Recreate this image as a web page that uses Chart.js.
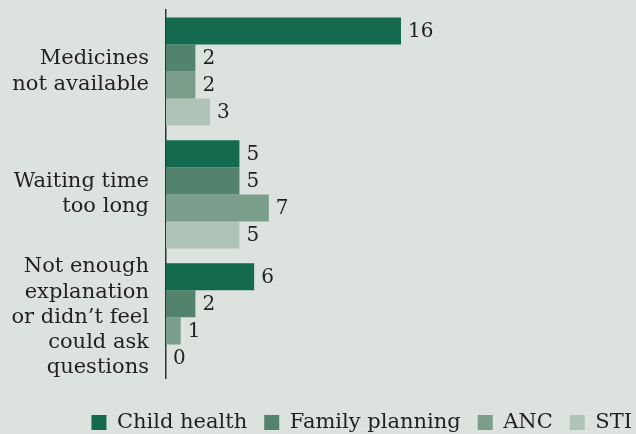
<!DOCTYPE html>
<html>
<head>
<meta charset="utf-8">
<script src="https://cdn.jsdelivr.net/npm/chart.js@4"></script>
<style>
  html, body { margin: 0; padding: 0; background: #dce3df; }
  #wrap { width: 636px; height: 434px; }
</style>
</head>
<body>
<div id="wrap"><canvas id="myChart"></canvas></div>
<script>
const reasons = [
    ['Medicines', 'not available'],
    ['Waiting time', 'too long'],
    ['Not enough', 'explanation', 'or didn\u2019t feel', 'could ask', 'questions']
];
const childHealth = [16, 5, 6];
const familyPlanning = [2, 5, 2];
const anc = [2, 7, 1];
const sti = [3, 5, 0];

const serif = 'DejaVu Serif';

// writes the value just past the end of each bar
const valueLabels = {
    id: 'valueLabels',
    afterDatasetsDraw(chart) {
        const c = chart.ctx;
        c.save();
        c.font = '20px "' + serif + '"';
        c.fillStyle = '#231f20';
        c.textBaseline = 'middle';
        c.textAlign = 'left';
        chart.data.datasets.forEach((ds, i) => {
            chart.getDatasetMeta(i).data.forEach((bar, j) => {
                c.fillText(ds.data[j], bar.x + 7, bar.y + 1);
            });
        });
        c.restore();
    }
};

const ctx = document.getElementById('myChart');

new Chart(ctx, {
    type: 'bar',
    data: {
        labels: reasons,
        datasets: [
            { label: 'Child health', data: childHealth, backgroundColor: '#136a4f' },
            { label: 'Family planning', data: familyPlanning, backgroundColor: '#53836c' },
            { label: 'ANC', data: anc, backgroundColor: '#7b9e8a' },
            { label: 'STI', data: sti, backgroundColor: '#b0c3b8' },
        ]
    },
    options: {
        indexAxis: 'y',
        responsive: true,
        maintainAspectRatio: false,
        animation: false,
        categoryPercentage: 0.88,
        barPercentage: 1.0,
        layout: {
            // negative right/bottom let the legend sit near the canvas edge
            padding: { top: 10, right: -13, left: 0, bottom: -9 }
        },
        scales: {
            x: {
                display: false,
                min: 0,
                max: 32
            },
            y: {
                grid: { display: false, drawTicks: false },
                border: { display: true, color: '#333333', width: 1.5 },
                ticks: {
                    autoSkip: false,
                    color: '#231f20',
                    padding: 17,
                    font: { family: serif, size: 21, lineHeight: 1.2 }
                },
                afterFit(scale) {
                    // keep the tall wrapped labels from shrinking the plot
                    scale.width = 166;
                    scale.paddingTop = 0;
                    scale.paddingBottom = 0;
                }
            }
        },
        plugins: {
            tooltip: { enabled: false },
            legend: {
                position: 'bottom',
                align: 'end',
                // blank title only adds space above the legend row
                title: {
                    display: true,
                    text: ' ',
                    font: { size: 1 },
                    padding: { top: 8, bottom: 7 }
                },
                labels: {
                    color: '#231f20',
                    boxWidth: 15,
                    boxHeight: 15,
                    padding: 17,
                    font: { family: serif, size: 21 }
                }
            }
        }
    },
    plugins: [valueLabels]
});
</script>
</body>
</html>
